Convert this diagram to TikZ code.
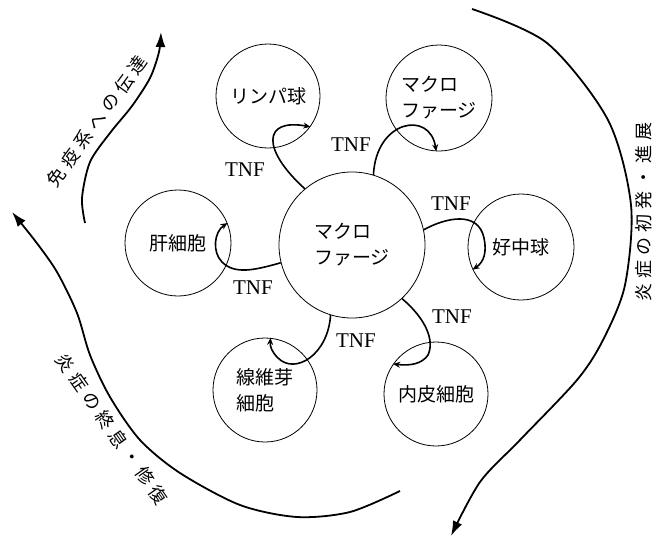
\documentclass[tikz,border=0pt]{standalone}
\usepackage{fontspec}
\setmainfont{Liberation Serif}
\newfontfamily\jp{Noto Sans CJK JP}
\newfontfamily\jpwide[LetterSpace=28]{Noto Sans CJK JP}
\usetikzlibrary{arrows.meta}
\begin{document}
\begin{tikzpicture}[x=1pt,y=-1pt,
  cell/.style={circle,draw,line width=0.8pt,inner sep=0pt,minimum size=105pt,
    font=\jp\fontsize{19}{26}\selectfont,align=left},
  conn/.style={line width=1.6pt,-{Stealth[length=7pt,width=6pt]}},
  big/.style={line width=1.8pt,-{Latex[length=15pt,width=10pt]}},
  tnf/.style={font=\fontsize{21}{21}\selectfont,inner sep=0pt},
  arlabel/.style={font=\jpwide\fontsize{18}{18}\selectfont,inner sep=0pt}]
\useasboundingbox (0,0) rectangle (657,541);

% cells
\node[cell,minimum size=146pt] (mac) at (352,245) {マクロ\\ファージ};
\node[cell,minimum size=104pt] (lym) at (268,96) {リンパ球};
\node[cell,minimum size=106pt] (mac2) at (439,98) {マクロ\\ファージ};
\node[cell,minimum size=106pt] (neut) at (521,247) {好中球};
\node[cell,minimum size=106pt] (liv) at (178,243) {肝細胞};
\node[cell,minimum size=104pt] (fib) at (265,390) {線維芽\\細胞};
\node[cell,minimum size=104pt] (endo) at (436,394) {内皮細胞};

% TNF connectors
\draw[conn] (mac.130) .. controls (262,150) and (262,118) .. (lym.-36);
\draw[conn] (mac.73) .. controls (376,120) and (430,110) .. (mac2.-93);
\draw[conn] (mac.12) .. controls (445,218) and (478,210) .. (484,238)
  .. controls (487,252) and (484,262) .. (neut.205);
\draw[conn] (mac.194) .. controls (255,270) and (235,275) .. (222,262)
  .. controls (212,252) and (214,232) .. (liv.22);
\draw[conn] (mac.253) .. controls (328,355) and (295,375) .. (278,358)
  .. controls (272,352) and (270,347) .. (fib.84);
\draw[conn] (mac.-47) .. controls (425,318) and (435,340) .. (428,355)
  .. controls (422,364) and (410,366) .. (endo.145);

% TNF labels
\node[tnf] (t1) at (245,170) {TNF};
\node[tnf] (t2) at (351,145) {TNF};
\node[tnf] (t3) at (451,204) {TNF};
\node[tnf] (t4) at (253,288) {TNF};
\node[tnf] (t5) at (356,341) {TNF};
\node[tnf] (t6) at (452,317) {TNF};

% big arrows
\draw[big] plot[smooth] coordinates {(472,9) (547,43) (608,120) (631,205) (625,285) (603,340) (577,380) (520,440) (480,482) (451,536)};
\draw[big] plot[smooth] coordinates {(85,223) (82,198) (90,162) (110,133) (132,106) (150,78) (159,52) (161,32)};
\draw[big] plot[smooth] coordinates {(400,491) (350,512) (297,517) (240,505) (180,473) (140,440) (110,397) (90,355) (77,313) (57,272) (36,242) (12,212)};

% big arrow labels
\node[arlabel,rotate=54] (l1) at (97,121) {免疫系への伝達};
\node[arlabel,rotate=-55] (l2) at (112,429) {炎症の終息・修復};
\node[arlabel,rotate=90] (l3) at (644,212) {炎症の初発・進展};
\end{tikzpicture}
\end{document}
